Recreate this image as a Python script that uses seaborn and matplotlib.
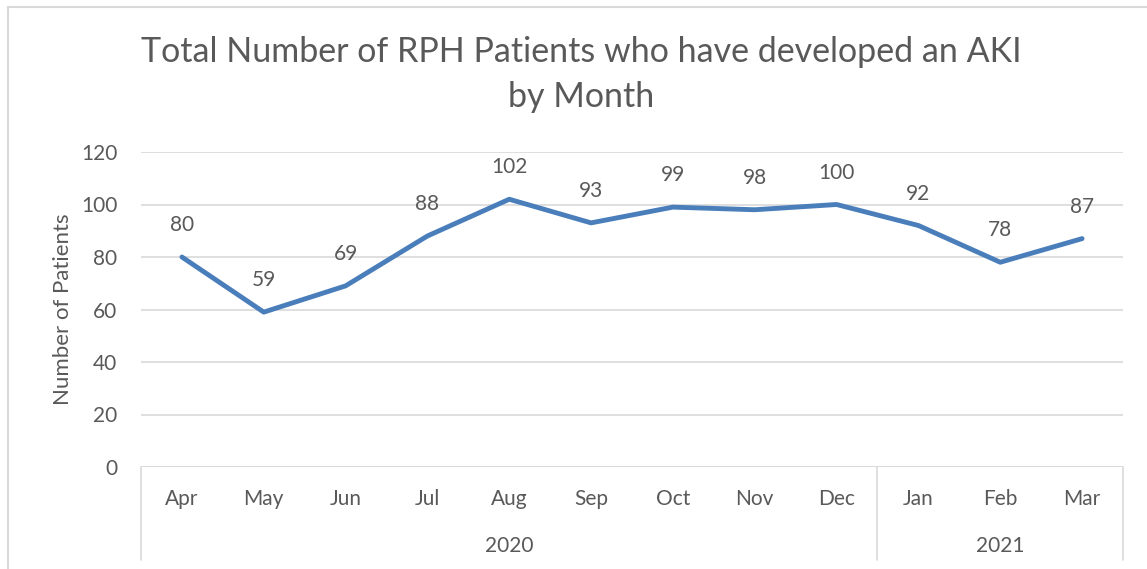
import matplotlib
matplotlib.use("Agg")
import matplotlib.pyplot as plt
import matplotlib.transforms as mtransforms
from matplotlib.lines import Line2D
import seaborn as sns
import pandas as pd
import numpy as np

months = ["Apr", "May", "Jun", "Jul", "Aug", "Sep", "Oct", "Nov", "Dec", "Jan", "Feb", "Mar"]
years = ["2020", "2021"]
months_per_year = [9, 3]
patients = [80, 59, 69, 88, 102, 93, 99, 98, 100, 92, 78, 87]
yticks = [0, 20, 40, 60, 80, 100, 120]

sns.set_theme(style="white")
plt.rcParams["font.family"] = ["Lato", "DejaVu Sans"]

W, H = 1147, 569
fig = plt.figure(figsize=(W / 100, H / 100), dpi=100)
ax = fig.add_axes([141 / W, 1 - 467 / H, (1123 - 141) / W, (467 - 152) / H])

df = pd.DataFrame({"pos": np.arange(len(months)), "Patients": patients})
sns.lineplot(data=df, x="pos", y="Patients", ax=ax, color="#4a7ebb", linewidth=3.5,
             solid_joinstyle="round", solid_capstyle="round")

gray = "#595959"
grid = "#d9d9d9"
fs = 15
ax.set_xlim(-0.5, len(months) - 0.5)
ax.set_ylim(0, 120)
ax.set_yticks(yticks)
ax.set_yticklabels([str(v) for v in yticks], fontsize=fs, color=gray)
ax.yaxis.grid(True, color=grid, linewidth=1.2)
ax.set_axisbelow(True)
for s in ["top", "right", "left", "bottom"]:
    ax.spines[s].set_visible(False)
ax.axhline(0, color=grid, linewidth=1.2, zorder=1)
ax.tick_params(axis="y", length=0, pad=17)

ax.set_xticks(np.arange(len(months)))
ax.set_xticklabels(months, fontsize=fs, color=gray)
ax.tick_params(axis="x", length=0, pad=16)
ax.set_xlabel("")
ax.set_ylabel("Number of Patients", fontsize=16, color=gray, labelpad=6)

for i, v in enumerate(patients):
    ax.annotate(str(v), (i, v), xytext=(0, 23), textcoords="offset points",
                ha="center", va="center", fontsize=fs, color=gray)

# multi-level category axis separators and year labels
trans = mtransforms.blended_transform_factory(ax.transData, ax.transAxes)
ybot = -(560 - 467) / (467 - 152)
bounds = [-0.5]
for n in months_per_year:
    bounds.append(bounds[-1] + n)
for b in bounds:
    ax.add_line(Line2D([b, b], [0, ybot], transform=trans, color=grid, linewidth=1.2, clip_on=False))
yyear = -(546 - 467) / (467 - 152)
for k, yr in enumerate(years):
    ax.text((bounds[k] + bounds[k + 1]) / 2, yyear, yr, transform=trans,
            ha="center", va="center", fontsize=fs, color=gray)

fig.text(581 / W, 1 - 52 / H, "Total Number of RPH Patients who have developed an AKI",
         ha="center", va="center", fontsize=24.5, color=gray)
fig.text(581 / W, 1 - 97 / H, "by Month", ha="center", va="center", fontsize=24.5, color=gray)

# chart border (top and left visible)
fig.add_artist(Line2D([8 / W, 8 / W], [0, 1 - 7 / H], transform=fig.transFigure, color=grid, linewidth=1.5))
fig.add_artist(Line2D([8 / W, 1], [1 - 7 / H, 1 - 7 / H], transform=fig.transFigure, color=grid, linewidth=1.5))

fig.savefig("out.png", dpi=100)
